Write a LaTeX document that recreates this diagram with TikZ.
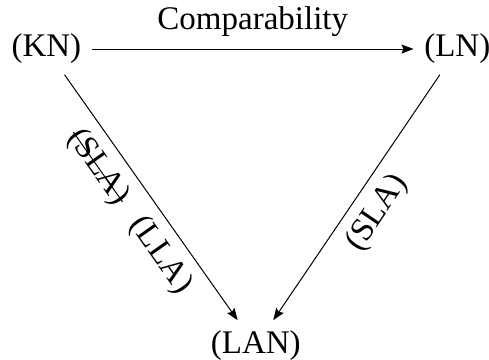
\documentclass[tikz,border=0pt]{standalone}
\usepackage{fontspec}
\setmainfont{Liberation Serif}
\usetikzlibrary{arrows.meta}
\begin{document}
\begin{tikzpicture}[x=0.5pt,y=-0.5pt,
  every node/.style={font=\fontsize{16.5}{19.5}\selectfont},
  nd/.style={inner sep=5.2pt},
  arr/.style={line width=0.5pt,-{Stealth[length=6pt,width=4.5pt,inset=1pt]}},
  lbl/.style={sloped, below=5.2pt, inner sep=0pt}]
\useasboundingbox (0,0) rectangle (489,360);
\node[nd] (KN) at (46.4,49) {(KN)};
\node[nd] (LN) at (457.3,49) {(LN)};
\node[nd] (LAN) at (255.8,346) {(LAN)};
\draw[arr] (KN) -- node[above, inner sep=6pt] (cmp) {Comparability} (LN);
\draw[arr] (KN) -- node[lbl, pos=0.315] (slaL) {(SLA)} node[lbl, pos=0.676] (lla) {(LLA)} (LAN);
\draw[line width=0.5pt] (slaL.west) -- (slaL.east);
\draw[arr] (LN) -- node[lbl, pos=0.504] (slaR) {(SLA)} (LAN);
\end{tikzpicture}
\end{document}
